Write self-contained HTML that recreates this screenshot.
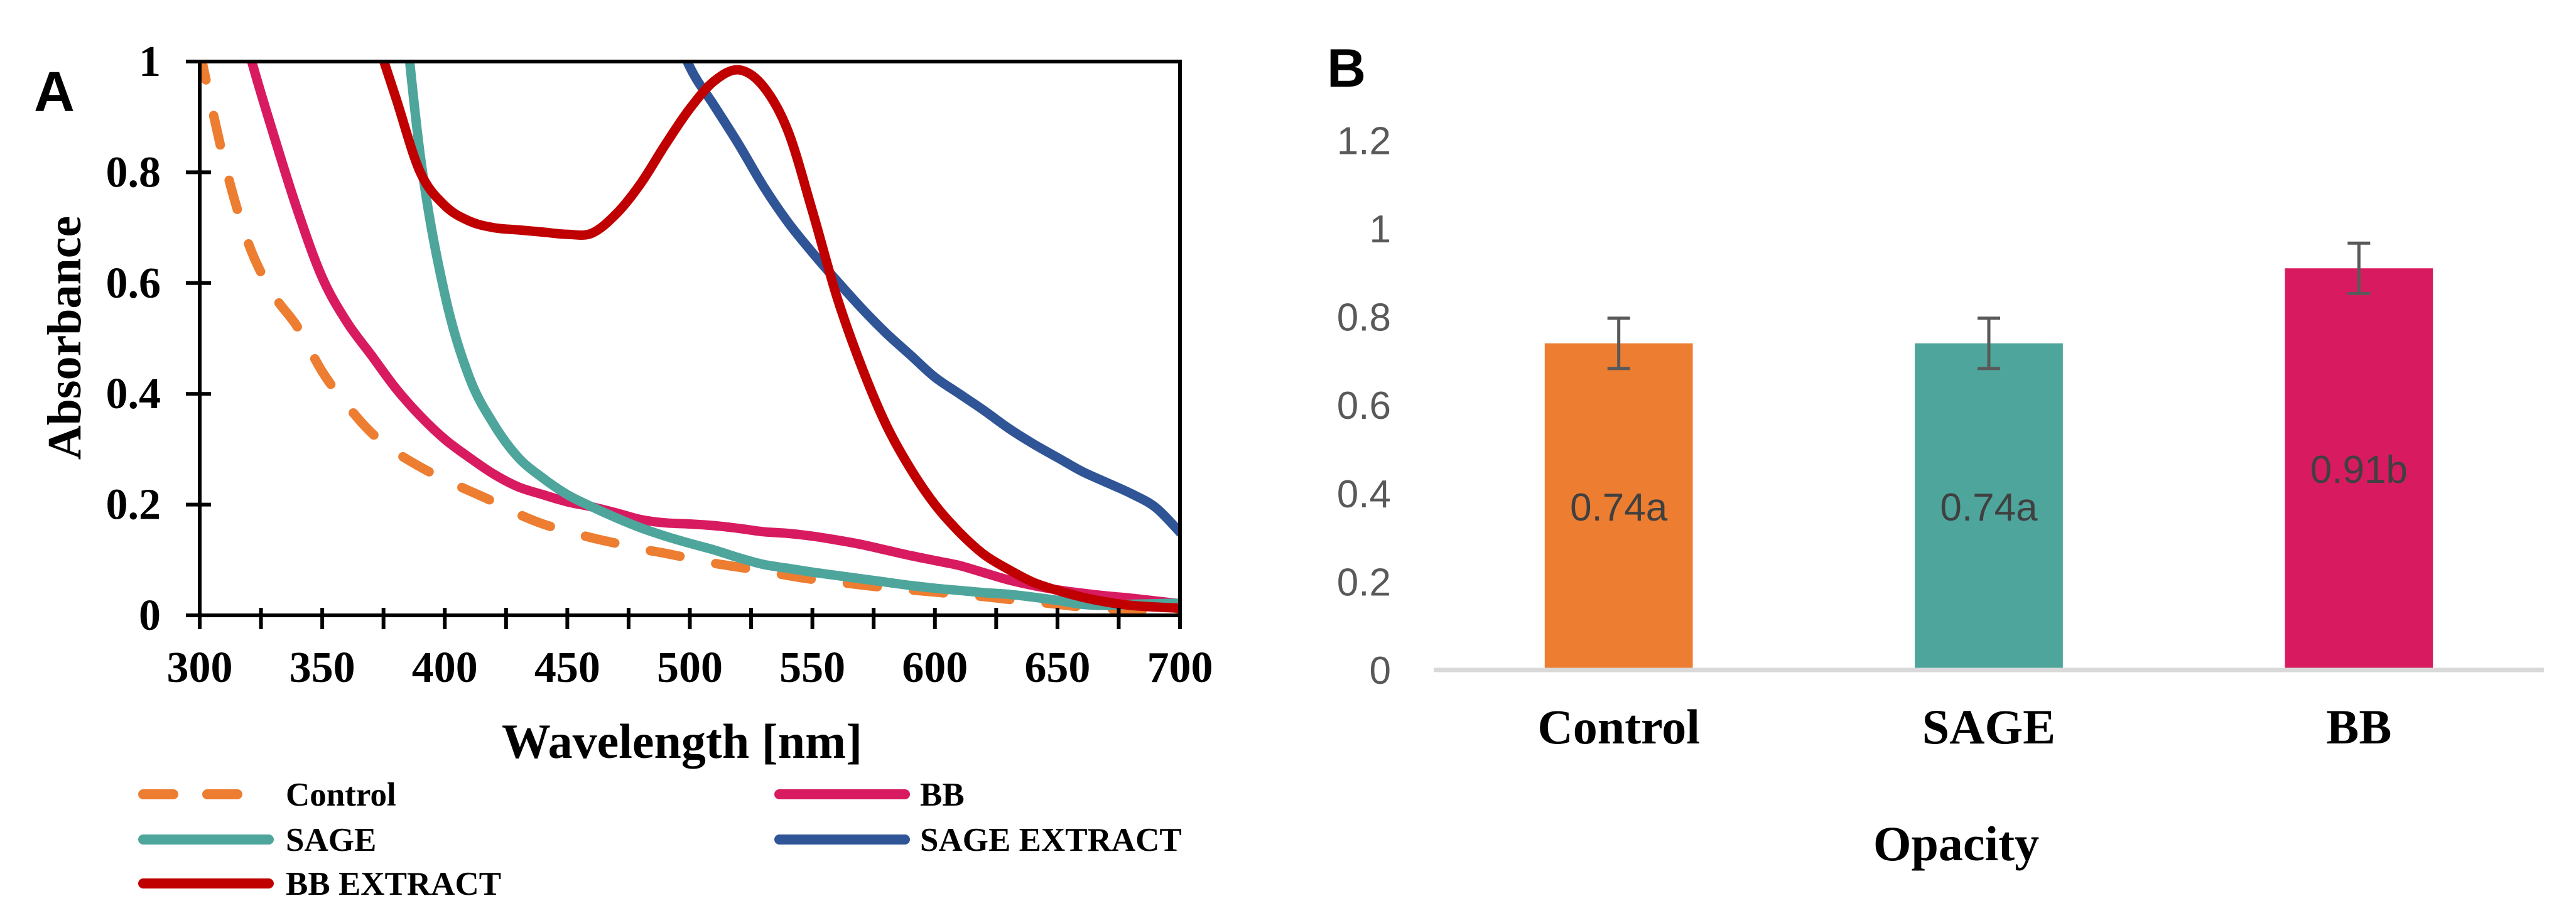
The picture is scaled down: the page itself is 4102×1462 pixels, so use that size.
<!DOCTYPE html>
<html><head><meta charset="utf-8"><style>
html,body{margin:0;padding:0;background:#fff;}
svg{display:block;}
.serif{font-family:"Liberation Serif",serif;}
</style></head><body>
<svg id="fig" width="4102" height="1462" viewBox="0 0 4102 1462" xmlns="http://www.w3.org/2000/svg">
<defs><clipPath id="clipA"><rect x="318" y="98" width="1561" height="882"/></clipPath></defs>
<g id="chartA"></g>
<g id="chartB"></g>
</svg>
<script>
// ---------- Chart A data ----------
const wavelengths = [300,310,320,330,340,350,360,370,380,390,400,410,420,430,440,450,460,470,480,490,500,510,520,530,540,550,560,570,580,590,600,610,620,630,640,650,660,670,680,690,700];
const controlAbs = [1.02,0.82,0.67,0.58,0.52,0.44,0.38,0.33,0.295,0.268,0.245,0.225,0.205,0.183,0.165,0.152,0.14,0.13,0.12,0.112,0.103,0.094,0.087,0.08,0.072,0.065,0.06,0.055,0.05,0.046,0.042,0.038,0.034,0.029,0.025,0.02,0.015,0.012,0.01,0.01,0.01];
const bbAbs = [1.4,1.2,1.02,0.87,0.73,0.61,0.53,0.47,0.41,0.36,0.318,0.285,0.255,0.232,0.218,0.205,0.196,0.185,0.173,0.167,0.165,0.162,0.157,0.151,0.148,0.143,0.136,0.128,0.118,0.108,0.099,0.09,0.077,0.064,0.054,0.046,0.04,0.035,0.031,0.026,0.021];
const sageAbs = [null,null,null,null,null,null,null,null,1.25,0.83,0.58,0.43,0.345,0.285,0.248,0.218,0.196,0.176,0.158,0.143,0.13,0.118,0.104,0.092,0.085,0.078,0.072,0.066,0.06,0.054,0.049,0.045,0.041,0.038,0.033,0.027,0.02,0.018,0.02,0.021,0.022];
const sageExtractAbs = [null,null,null,null,null,null,null,null,null,null,null,null,null,null,null,null,null,null,null,1.1,0.99,0.92,0.85,0.775,0.71,0.655,0.604,0.555,0.51,0.47,0.43,0.4,0.37,0.338,0.31,0.285,0.26,0.24,0.22,0.195,0.15];
const bbExtractAbs = [null,null,null,null,null,null,null,1.07,0.935,0.8,0.74,0.712,0.7,0.696,0.692,0.688,0.69,0.725,0.78,0.85,0.915,0.965,0.985,0.955,0.875,0.73,0.575,0.45,0.345,0.265,0.2,0.15,0.11,0.083,0.06,0.045,0.033,0.024,0.018,0.015,0.013];
const xTicksA = [300,350,400,450,500,550,600,650,700];
const yTicksA = [0,0.2,0.4,0.6,0.8,1];
// ---------- Chart B data ----------
const categories = ["Control","SAGE","BB"];
const opacityValues = [0.74,0.74,0.91];
const opacityErrors = [0.057,0.057,0.057];
const barLabels = ["0.74a","0.74a","0.91b"];
const yTicksB = [0,0.2,0.4,0.6,0.8,1,1.2];

const NS="http://www.w3.org/2000/svg";
const SANS='font-family:"Liberation Sans",sans-serif';
const SERIF='font-family:"Liberation Serif",serif';
function mk(tag,attrs,parent,txt){const e=document.createElementNS(NS,tag);for(const k in attrs)e.setAttribute(k,attrs[k]);if(txt!==undefined)e.textContent=txt;parent.appendChild(e);return e;}

// ----- Chart A -----
const A=document.getElementById('chartA');
const ax0=318,ax1=1879,ay0=980,ay1=98;
const xA=w=>ax0+(w-300)/400*(ax1-ax0);
const yA=v=>ay0-v*(ay0-ay1);
let t=mk('text',{x:54,y:177,style:SANS,'font-weight':'bold','font-size':90},A,'A');


function smoothPath(xs,ys){
  const pts=[];for(let i=0;i<xs.length;i++){if(ys[i]!==null)pts.push([xA(xs[i]),yA(ys[i])]);}
  let d='M'+pts[0][0]+','+pts[0][1];
  for(let i=0;i<pts.length-1;i++){
    const p0=pts[Math.max(0,i-1)],p1=pts[i],p2=pts[i+1],p3=pts[Math.min(pts.length-1,i+2)];
    const c1=[p1[0]+(p2[0]-p0[0])/6,p1[1]+(p2[1]-p0[1])/6];
    const c2=[p2[0]-(p3[0]-p1[0])/6,p2[1]-(p3[1]-p1[1])/6];
    d+=` C${c1[0]},${c1[1]} ${c2[0]},${c2[1]} ${p2[0]},${p2[1]}`;
  }
  return d;
}
const series=[
 {name:'Control',vals:controlAbs,color:'#ED7D31',dash:'48 58',id:'control'},
 {name:'BB',vals:bbAbs,color:'#D81B60',dash:null,id:'bb'},
 {name:'SAGE',vals:sageAbs,color:'#4EA59C',dash:null,id:'sage'},
 {name:'SAGE EXTRACT',vals:sageExtractAbs,color:'#2F5597',dash:null,id:'sage-extract'},
 {name:'BB EXTRACT',vals:bbExtractAbs,color:'#C00000',dash:null,id:'bb-extract'}
];
const gLines=mk('g',{'clip-path':'url(#clipA)'},A);
series.forEach(s=>{
  const p=mk('path',{d:smoothPath(wavelengths,s.vals),fill:'none',stroke:s.color,'stroke-width':15,'stroke-linecap':'round','stroke-linejoin':'round'},gLines);
  if(s.dash)p.setAttribute('stroke-dasharray',s.dash);
  
  
});
let fr=mk('rect',{x:ax0,y:ay1,width:ax1-ax0,height:ay0-ay1,fill:'none',stroke:'#000','stroke-width':6},A);


for(let w=300;w<=700;w+=25){mk('line',{x1:xA(w),x2:xA(w),y1:ay0-12,y2:ay0+22,stroke:'#000','stroke-width':6},A);}
yTicksA.forEach(v=>{mk('line',{x1:ax0-22,x2:ax0+18,y1:yA(v),y2:yA(v),stroke:'#000','stroke-width':6},A);
  const l=mk('text',{x:256,y:yA(v)+23,style:SERIF,'text-anchor':'end','font-weight':'bold','font-size':70},A,String(v));
  
  });
xTicksA.forEach(w=>{const l=mk('text',{x:xA(w),y:1086,style:SERIF,'text-anchor':'middle','font-weight':'bold','font-size':70},A,String(w));
  
  });
t=mk('text',{x:0,y:0,style:SERIF,transform:'translate(128,538) rotate(-90)','text-anchor':'middle','font-weight':'bold','font-size':76},A,'Absorbance');


t=mk('text',{x:1086,y:1207,style:SERIF,'text-anchor':'middle','font-weight':'bold','font-size':78},A,'Wavelength [nm]');


const legPos=[[228,1265],[1241,1265],[228,1337],[1241,1337],[228,1407]];
series.forEach((s,i)=>{const [lx,ly]=legPos[i];
  const g=mk('g',{},A);
  
  
  const ln=mk('line',{x1:lx,x2:lx+200,y1:ly,y2:ly,stroke:s.color,'stroke-width':16,'stroke-linecap':'round'},g);
  if(s.dash)ln.setAttribute('stroke-dasharray','48 54');
  mk('text',{x:lx+(i%2?224:227),y:ly+18,style:SERIF,'font-weight':'bold','font-size':53},g,s.name);
});

// ----- Chart B -----
const B=document.getElementById('chartB');
const bx0=2283,bx1=4051,by0=1067,byStep=140.6;
const yB=v=>by0-v/0.2*byStep;
const band=(bx1-bx0)/categories.length;
const xB=i=>bx0+band*(i+0.5);
const bw=band*0.4;
const barColors=['#ED7D31','#4EA59C','#D81B60'];
t=mk('text',{x:2113,y:138,style:SANS,'font-weight':'bold','font-size':86},B,'B');


yTicksB.forEach(v=>{const l=mk('text',{x:2215,y:yB(v)+22,style:SANS,'text-anchor':'end','font-size':62,fill:'#595959'},B,String(v));
  
  });
categories.forEach((c,i)=>{
  const r=mk('rect',{x:xB(i)-bw/2,y:yB(opacityValues[i]),width:bw,height:by0-yB(opacityValues[i]),fill:barColors[i]},B);
  
  
  const e=mk('g',{stroke:'#595959','stroke-width':5},B);
  
  
  const top=yB(opacityValues[i]+opacityErrors[i]),bot=yB(opacityValues[i]-opacityErrors[i]);
  mk('line',{x1:xB(i),x2:xB(i),y1:top,y2:bot},e);
  mk('line',{x1:xB(i)-18,x2:xB(i)+18,y1:top,y2:top},e);
  mk('line',{x1:xB(i)-18,x2:xB(i)+18,y1:bot,y2:bot},e);
  const lb=mk('text',{x:xB(i),y:(yB(opacityValues[i])+by0)/2+22,style:SANS,'text-anchor':'middle','font-size':62,fill:'#404040'},B,barLabels[i]);
  
  
  const cl=mk('text',{x:xB(i),y:1184,style:SERIF,'text-anchor':'middle','font-weight':'bold','font-size':78},B,c);
  
  
});
let axl=mk('line',{x1:bx0,x2:bx1,y1:by0,y2:by0,stroke:'#D9D9D9','stroke-width':7},B);


t=mk('text',{x:3115,y:1370,style:SERIF,'text-anchor':'middle','font-weight':'bold','font-size':78},B,'Opacity');


</script>
</body></html>
